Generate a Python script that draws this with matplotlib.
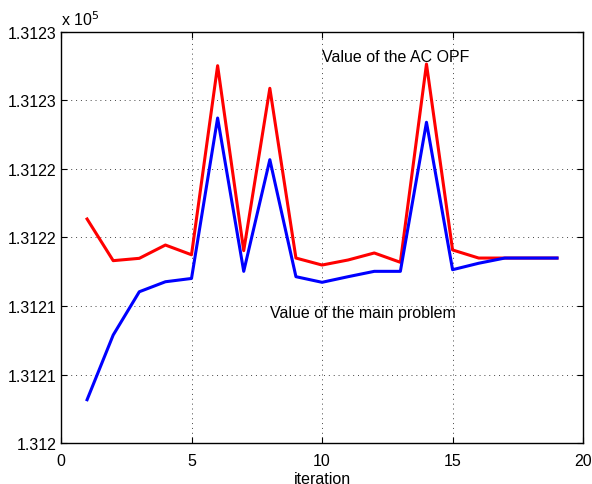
import matplotlib
matplotlib.use('Agg')
import matplotlib.pyplot as plt

plt.rcParams['font.family'] = ['Liberation Sans', 'DejaVu Sans']

iterations = list(range(1, 20))
# values of the AC OPF (red) and of the main problem (blue)
ac_opf = [131216.35, 131213.31, 131213.48, 131214.45, 131213.74, 131227.54, 131214.04,
          131225.89, 131213.50, 131212.99, 131213.36, 131213.87, 131213.19, 131227.66,
          131214.09, 131213.50, 131213.50, 131213.50, 131213.50]
main_problem = [131203.16, 131207.88, 131211.04, 131211.77, 131212.01, 131223.72, 131212.53,
                131220.68, 131212.14, 131211.73, 131212.14, 131212.53, 131212.53, 131223.41,
                131212.65, 131213.12, 131213.50, 131213.50, 131213.50]

yticks = [131200, 131205, 131210, 131215, 131220, 131225, 131230]
ytick_labels = ['1.312', '1.3121', '1.3121', '1.3122', '1.3122', '1.3123', '1.3123']
xticks = [0, 5, 10, 15, 20]

fs = 11.5
fig = plt.figure(figsize=(5.92, 4.85), dpi=100)
ax = fig.add_axes([0.103, 0.0845, 0.882, 0.8475])

ax.plot(iterations, ac_opf, color='red', linewidth=2.2)
ax.plot(iterations, main_problem, color='blue', linewidth=2.2)

ax.set_xlim(0, 20)
ax.set_ylim(131200, 131230)
ax.set_xticks(xticks)
ax.set_yticks(yticks)
ax.set_yticklabels(ytick_labels)
ax.tick_params(direction='in', top=True, right=True, labelsize=fs, length=4, pad=3)
ax.tick_params(axis='x', pad=7)
ax.grid(True, color='#444444', linestyle=(0, (1, 4)), linewidth=0.7)
for s in ax.spines.values():
    s.set_linewidth(1.0)

ax.set_xlabel('iteration', fontsize=fs, labelpad=2)
ax.text(0.0, 1.01, r'x 10$^5$', transform=ax.transAxes, fontsize=fs, va='bottom')

ax.text(10.0, 131228.2, 'Value of the AC OPF', fontsize=fs, va='center')
ax.text(8.0, 131209.5, 'Value of the main problem', fontsize=fs, va='center')

fig.savefig('out.png', dpi=100)
